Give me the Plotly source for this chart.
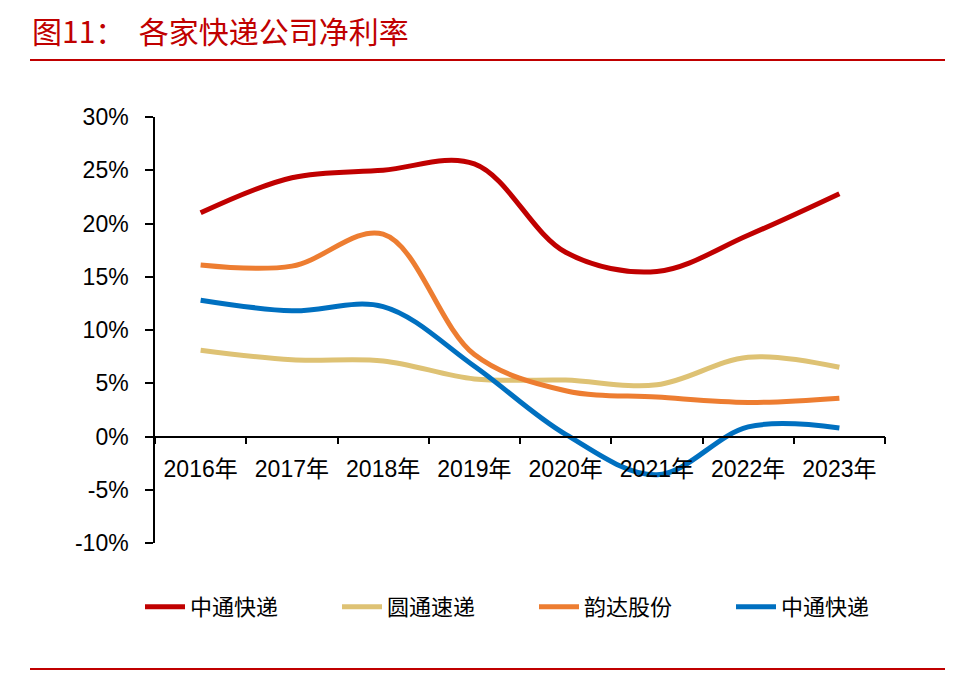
import plotly.graph_objects as go

years = ["2016年", "2017年", "2018年", "2019年", "2020年", "2021年", "2022年", "2023年"]
series_names = ["中通快递", "圆通速递", "韵达股份", "中通快递"]
zto = [21.0, 24.3, 25.0, 25.6, 17.3, 15.5, 18.9, 22.8]
yto = [8.1, 7.2, 7.1, 5.4, 5.3, 4.85, 7.45, 6.5]
yunda = [16.1, 16.0, 19.0, 7.7, 4.3, 3.7, 3.2, 3.6]
sto = [12.8, 11.8, 12.2, 6.6, 0.2, -3.6, 0.9, 0.8]
y_ticks = [30, 25, 20, 15, 10, 5, 0, -5, -10]
y_tick_text = ["30%", "25%", "20%", "15%", "10%", "5%", "0%", "-5%", "-10%"]
colors = ["#C00000", "#DEC274", "#ED7D31", "#0070C0"]

OFF = 8  # page body margin
W, H = 960 - OFF, 680 - OFF
L, T = 155 - OFF, 117 - OFF
R = W - (885 - OFF)
B = H - (543 - OFF)
pw = W - L - R
ph = H - T - B

def px_x(x):
    return (x - OFF - L) / pw

def px_y(y):
    return (H - B - (y - OFF)) / ph

fig = go.Figure()
for name, vals, c in zip(series_names, [zto, yto, yunda, sto], colors):
    fig.add_trace(go.Scatter(
        x=years, y=vals, name=name, mode="lines",
        line=dict(color=c, width=5, shape="spline", smoothing=1.0),
        cliponaxis=False,
    ))

zero_pos = (0 - (-10)) / (30 - (-10))

fig.update_layout(
    width=W, height=H,
    margin=dict(l=L, r=R, t=T, b=B),
    paper_bgcolor="white", plot_bgcolor="white",
    font=dict(family="Liberation Sans, Arial, Noto Sans CJK SC", size=23, color="black"),
    showlegend=True,
    legend=dict(
        orientation="h", x=px_x(140), y=px_y(607), xanchor="left", yanchor="middle",
        font=dict(family="Noto Sans CJK SC", size=22, color="black"),
        itemwidth=40, entrywidth=142, entrywidthmode="pixels",
        bgcolor="rgba(0,0,0,0)",
    ),
    xaxis=dict(
        type="category", range=[-0.5, 7.5], anchor="free", position=zero_pos,
        showline=True, linecolor="black", linewidth=1.5,
        ticks="outside", ticklen=7, tickcolor="black", tickwidth=1.5,
        tickson="boundaries", showgrid=False, zeroline=False,
        tickfont=dict(family="Liberation Sans, Noto Sans CJK SC", size=23, color="black"),
        ticklabelstandoff=12,
    ),
    yaxis=dict(
        range=[-10, 30], tickvals=y_ticks, ticktext=y_tick_text,
        showline=True, linecolor="black", linewidth=1.5,
        ticks="outside", ticklen=8, tickcolor="black", tickwidth=1.5,
        showgrid=False, zeroline=False,
        tickfont=dict(family="Liberation Sans", size=23, color="black"),
        ticklabelstandoff=12,
    ),
)

fig.add_annotation(
    x=px_x(31), y=px_y(30), xref="paper", yref="paper",
    text="图11：  各家快递公司净利率", showarrow=False,
    xanchor="left", yanchor="middle", borderpad=0,
    font=dict(family="Noto Sans CJK SC", size=30, color="#C00000"),
)
fig.add_shape(type="line", xref="paper", yref="paper",
              x0=px_x(30), x1=px_x(945), y0=px_y(60), y1=px_y(60),
              line=dict(color="#C00000", width=2))
fig.add_shape(type="line", xref="paper", yref="paper",
              x0=px_x(30), x1=px_x(945), y0=px_y(669), y1=px_y(669),
              line=dict(color="#C00000", width=2))

fig.write_html("out.html")
